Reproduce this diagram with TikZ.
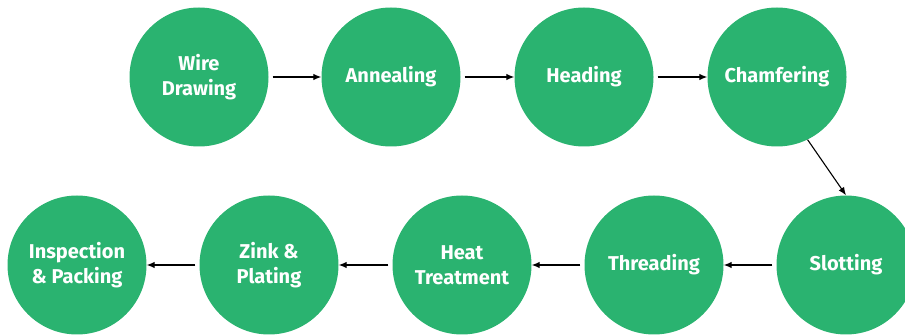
\documentclass[tikz,border=0pt]{standalone}
\usepackage{fontspec}
\setmainfont{Fira Sans}
\usepackage{tikz}
\usetikzlibrary{arrows.meta}

\definecolor{stepgreen}{RGB}{42,179,112}

\begin{document}
\begin{tikzpicture}[x=1pt,y=-1pt,>={Latex[length=8pt,width=6.5pt]}]
	\tikzset{stage/.style={circle,fill=stepgreen,minimum size=139pt,inner sep=0pt,
		text=white,font=\fontsize{20}{25}\selectfont\bfseries,align=center}}
	\useasboundingbox (0,0) rectangle (905,336);

	\node[stage] (wire)  at (199,77) {Wire\\Drawing};
	\node[stage] (anneal) at (391,77) {Annealing};
	\node[stage] (head)  at (584,77) {Heading};
	\node[stage] (chamf) at (777,77) {Chamfering};
	
	\node[stage] (slot)   at (846,265) {Slotting};
	\node[stage] (thread) at (654,265) {Threading};
	\node[stage] (heat)   at (462,265) {Heat\\Treatment};
	\node[stage] (zink)   at (269,265) {Zink \&\\Plating};
	\node[stage] (insp)   at (77,265)  {Inspection\\\& Packing};
	
	\draw[->,line width=1.1pt] ([xshift=4pt]wire.east)--(anneal.west);		%wire--annealing
	\draw[->,line width=1.1pt] ([xshift=4pt]anneal.east)--(head.west);		%annealing--heading
	\draw[->,line width=1.1pt] ([xshift=4pt]head.east)--(chamf.west);		%heading--chamfering
	\draw[->,line width=1.1pt] (chamf.-64)--(slot.north);					%chamfering--slotting
	%
	\draw[->,line width=1.1pt] ([xshift=-4pt]slot.west)--(thread.east);		%slotting--threading
	\draw[->,line width=1.1pt] ([xshift=-4pt]thread.west)--(heat.east);		%threading--heat
	\draw[->,line width=1.1pt] ([xshift=-4pt]heat.west)--(zink.east);		%heat--zink
	\draw[->,line width=1.1pt] ([xshift=-4pt]zink.west)--(insp.east);		%zink--inspection
\end{tikzpicture}
\end{document}
